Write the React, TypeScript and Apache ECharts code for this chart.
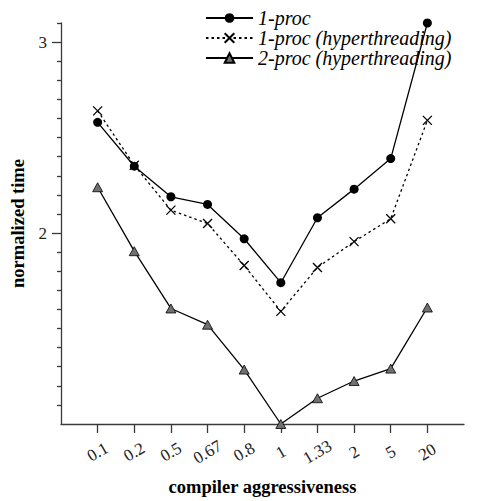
import React, { useEffect, useRef } from "react";
import * as echarts from "echarts";

// ---- data ----
const categories = ["0.1", "0.2", "0.5", "0.67", "0.8", "1", "1.33", "2", "5", "20"];
const oneProc = [2.58, 2.35, 2.19, 2.15, 1.97, 1.74, 2.08, 2.23, 2.39, 3.1];
const oneProcHT = [2.64, 2.355, 2.12, 2.05, 1.83, 1.59, 1.82, 1.955, 2.075, 2.59];
const twoProcHT = [2.24, 1.905, 1.605, 1.52, 1.285, 1.0, 1.135, 1.225, 1.29, 1.61];
const seriesNames = ["1-proc", "1-proc (hyperthreading)", "2-proc (hyperthreading)"];
const yMajorTicks = [2, 3];
const yMinorTicks = [1.1, 1.2, 1.3, 1.4, 1.5, 1.6, 1.7, 1.8, 1.9, 2.1, 2.2, 2.3, 2.4, 2.5, 2.6, 2.7, 2.8, 2.9, 3.1];
const yMin = 1.0;
const yMax = 3.1;

// padding categories at both ends (a full step of blank space on each side)
const padded = ["<pad-left>", ...categories, "<pad-right>"];
const pad = (arr: number[]) => [null, ...arr, null];

const serif = '"Liberation Serif", "Times New Roman", serif';
const inner = (i: number) => i > 0 && i < padded.length - 1;

export default function App() {
  const ref = useRef<HTMLDivElement>(null);
  useEffect(() => {
    const chart = echarts.init(ref.current!, null, { renderer: "svg" });
    const axisColor = "#3a3a3a";
    chart.setOption({
      animation: false,
      backgroundColor: "#fff",
      grid: { left: 58, right: 15, top: 23, bottom: 72 },
      legend: {
        orient: "vertical",
        left: 200,
        top: 3,
        itemWidth: 47,
        itemHeight: 12,
        itemGap: 0,
        textStyle: { fontFamily: serif, fontStyle: "italic", fontSize: 20, lineHeight: 20, color: "#000" },
        data: seriesNames,
      },
      xAxis: {
        type: "category",
        data: padded,
        boundaryGap: false,
        axisLine: { lineStyle: { color: axisColor, width: 1.3 } },
        axisTick: { interval: inner, length: 9, lineStyle: { color: axisColor, width: 1.3 } },
        axisLabel: {
          interval: inner,
          rotate: 30,
          align: "center",
          verticalAlign: "middle",
          margin: 28,
          fontFamily: serif,
          fontSize: 17,
          color: "#222",
        },
        splitLine: { show: false },
        name: "compiler aggressiveness",
        nameLocation: "middle",
        nameGap: 53,
        nameTextStyle: { fontFamily: serif, fontWeight: "bold", fontSize: 18.5, color: "#000" },
      },
      yAxis: [
        {
          type: "value",
          position: "left",
          min: yMin,
          max: yMax,
          axisLine: { show: true, lineStyle: { color: axisColor, width: 1.3 } },
          axisTick: { show: true, customValues: yMinorTicks, length: 4, lineStyle: { color: axisColor, width: 1.3 } },
          axisLabel: { show: false },
          splitLine: { show: false },
        },
        {
          type: "value",
          position: "left",
          min: yMin,
          max: yMax,
          axisLine: { show: false },
          axisTick: { show: true, customValues: yMajorTicks, length: 9, lineStyle: { color: axisColor, width: 1.3 } },
          axisLabel: { customValues: yMajorTicks, margin: 14, fontFamily: serif, fontSize: 17, color: "#222" },
          splitLine: { show: false },
          name: "normalized time",
          nameLocation: "middle",
          nameGap: 34,
          nameTextStyle: { fontFamily: serif, fontWeight: "bold", fontSize: 18.5, color: "#000" },
        },
      ],
      series: [
        {
          name: seriesNames[0],
          type: "line",
          yAxisIndex: 0,
          data: pad(oneProc),
          symbol: "circle",
          symbolSize: 9,
          lineStyle: { color: "#000", width: 1.3 },
          itemStyle: { color: "#000" },
          z: 4,
        },
        {
          name: seriesNames[1],
          type: "line",
          yAxisIndex: 0,
          data: pad(oneProcHT),
          symbol: "path://M0,0L10,10M0,10L10,0",
          symbolSize: 9,
          lineStyle: { color: "#000", width: 1.3, type: [2.5, 3] },
          itemStyle: { color: "rgba(0,0,0,0)", borderColor: "#000", borderWidth: 1.3 },
          z: 3,
        },
        {
          name: seriesNames[2],
          type: "line",
          yAxisIndex: 0,
          data: pad(twoProcHT),
          symbol: "triangle",
          symbolSize: [10, 9],
          lineStyle: { color: "#000", width: 1.3 },
          itemStyle: { color: "#707070", borderColor: "#000", borderWidth: 0.8 },
          z: 2,
        },
      ],
    });
    return () => chart.dispose();
  }, []);
  return <div ref={ref} style={{ position: "fixed", left: 0, top: 0, width: 479, height: 501 }} />;
}
